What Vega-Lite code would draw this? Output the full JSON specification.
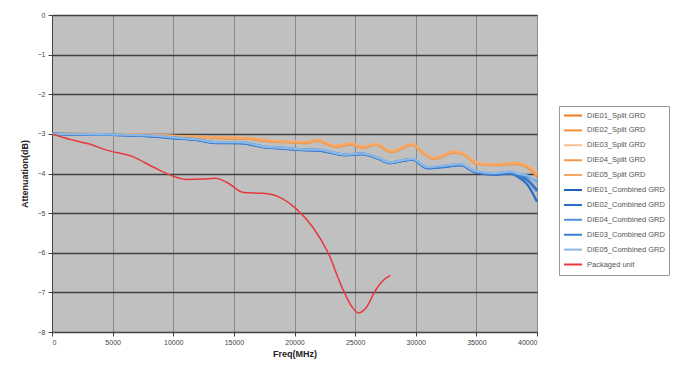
{
  "$schema": "https://vega.github.io/schema/vega-lite/v6.json",
  "width": 485,
  "height": 317,
  "autosize": "none",
  "padding": {"left": 52, "top": 15, "right": 143, "bottom": 44},
  "background": "white",
  "config": {
    "font": "Liberation Sans",
    "view": {"fill": "#C0C0C0", "stroke": "#808080", "strokeWidth": 1}
  },
  "data": {"values": [
    {"s":"DIE01_Split GRD","f":0,"a":-3.00},{"s":"DIE01_Split GRD","f":4000,"a":-3.01},{"s":"DIE01_Split GRD","f":8000,"a":-3.03},{"s":"DIE01_Split GRD","f":10000,"a":-3.06},{"s":"DIE01_Split GRD","f":12000,"a":-3.08},{"s":"DIE01_Split GRD","f":14000,"a":-3.10},{"s":"DIE01_Split GRD","f":16000,"a":-3.11},{"s":"DIE01_Split GRD","f":18000,"a":-3.18},{"s":"DIE01_Split GRD","f":19500,"a":-3.20},{"s":"DIE01_Split GRD","f":21000,"a":-3.21},{"s":"DIE01_Split GRD","f":21800,"a":-3.16},{"s":"DIE01_Split GRD","f":23400,"a":-3.31},{"s":"DIE01_Split GRD","f":24700,"a":-3.25},{"s":"DIE01_Split GRD","f":25600,"a":-3.34},{"s":"DIE01_Split GRD","f":26700,"a":-3.26},{"s":"DIE01_Split GRD","f":28000,"a":-3.45},{"s":"DIE01_Split GRD","f":29700,"a":-3.26},{"s":"DIE01_Split GRD","f":30500,"a":-3.45},{"s":"DIE01_Split GRD","f":31500,"a":-3.62},{"s":"DIE01_Split GRD","f":33200,"a":-3.45},{"s":"DIE01_Split GRD","f":34000,"a":-3.52},{"s":"DIE01_Split GRD","f":35000,"a":-3.74},{"s":"DIE01_Split GRD","f":36500,"a":-3.78},{"s":"DIE01_Split GRD","f":38200,"a":-3.74},{"s":"DIE01_Split GRD","f":39200,"a":-3.82},{"s":"DIE01_Split GRD","f":40000,"a":-4.05},

    {"s":"DIE02_Split GRD","f":0,"a":-3.00},{"s":"DIE02_Split GRD","f":4000,"a":-3.01},{"s":"DIE02_Split GRD","f":8000,"a":-3.04},{"s":"DIE02_Split GRD","f":10000,"a":-3.07},{"s":"DIE02_Split GRD","f":12000,"a":-3.09},{"s":"DIE02_Split GRD","f":14000,"a":-3.11},{"s":"DIE02_Split GRD","f":16000,"a":-3.12},{"s":"DIE02_Split GRD","f":18000,"a":-3.19},{"s":"DIE02_Split GRD","f":19500,"a":-3.21},{"s":"DIE02_Split GRD","f":21000,"a":-3.23},{"s":"DIE02_Split GRD","f":21800,"a":-3.17},{"s":"DIE02_Split GRD","f":23400,"a":-3.32},{"s":"DIE02_Split GRD","f":24700,"a":-3.27},{"s":"DIE02_Split GRD","f":25600,"a":-3.35},{"s":"DIE02_Split GRD","f":26700,"a":-3.28},{"s":"DIE02_Split GRD","f":28000,"a":-3.46},{"s":"DIE02_Split GRD","f":29700,"a":-3.28},{"s":"DIE02_Split GRD","f":30500,"a":-3.46},{"s":"DIE02_Split GRD","f":31500,"a":-3.63},{"s":"DIE02_Split GRD","f":33200,"a":-3.47},{"s":"DIE02_Split GRD","f":34000,"a":-3.53},{"s":"DIE02_Split GRD","f":35000,"a":-3.75},{"s":"DIE02_Split GRD","f":36500,"a":-3.79},{"s":"DIE02_Split GRD","f":38200,"a":-3.76},{"s":"DIE02_Split GRD","f":39200,"a":-3.84},{"s":"DIE02_Split GRD","f":40000,"a":-4.08},

    {"s":"DIE03_Split GRD","f":0,"a":-3.00},{"s":"DIE03_Split GRD","f":4000,"a":-3.02},{"s":"DIE03_Split GRD","f":8000,"a":-3.03},{"s":"DIE03_Split GRD","f":10000,"a":-3.05},{"s":"DIE03_Split GRD","f":12000,"a":-3.08},{"s":"DIE03_Split GRD","f":14000,"a":-3.09},{"s":"DIE03_Split GRD","f":16000,"a":-3.10},{"s":"DIE03_Split GRD","f":18000,"a":-3.17},{"s":"DIE03_Split GRD","f":19500,"a":-3.19},{"s":"DIE03_Split GRD","f":21000,"a":-3.20},{"s":"DIE03_Split GRD","f":21800,"a":-3.15},{"s":"DIE03_Split GRD","f":23400,"a":-3.30},{"s":"DIE03_Split GRD","f":24700,"a":-3.24},{"s":"DIE03_Split GRD","f":25600,"a":-3.33},{"s":"DIE03_Split GRD","f":26700,"a":-3.25},{"s":"DIE03_Split GRD","f":28000,"a":-3.43},{"s":"DIE03_Split GRD","f":29700,"a":-3.25},{"s":"DIE03_Split GRD","f":30500,"a":-3.44},{"s":"DIE03_Split GRD","f":31500,"a":-3.60},{"s":"DIE03_Split GRD","f":33200,"a":-3.44},{"s":"DIE03_Split GRD","f":34000,"a":-3.50},{"s":"DIE03_Split GRD","f":35000,"a":-3.72},{"s":"DIE03_Split GRD","f":36500,"a":-3.77},{"s":"DIE03_Split GRD","f":38200,"a":-3.73},{"s":"DIE03_Split GRD","f":39200,"a":-3.80},{"s":"DIE03_Split GRD","f":40000,"a":-4.00},

    {"s":"DIE04_Split GRD","f":0,"a":-3.00},{"s":"DIE04_Split GRD","f":4000,"a":-3.01},{"s":"DIE04_Split GRD","f":8000,"a":-3.03},{"s":"DIE04_Split GRD","f":10000,"a":-3.06},{"s":"DIE04_Split GRD","f":12000,"a":-3.08},{"s":"DIE04_Split GRD","f":14000,"a":-3.10},{"s":"DIE04_Split GRD","f":16000,"a":-3.12},{"s":"DIE04_Split GRD","f":18000,"a":-3.18},{"s":"DIE04_Split GRD","f":19500,"a":-3.21},{"s":"DIE04_Split GRD","f":21000,"a":-3.22},{"s":"DIE04_Split GRD","f":21800,"a":-3.17},{"s":"DIE04_Split GRD","f":23400,"a":-3.32},{"s":"DIE04_Split GRD","f":24700,"a":-3.26},{"s":"DIE04_Split GRD","f":25600,"a":-3.35},{"s":"DIE04_Split GRD","f":26700,"a":-3.27},{"s":"DIE04_Split GRD","f":28000,"a":-3.46},{"s":"DIE04_Split GRD","f":29700,"a":-3.27},{"s":"DIE04_Split GRD","f":30500,"a":-3.46},{"s":"DIE04_Split GRD","f":31500,"a":-3.62},{"s":"DIE04_Split GRD","f":33200,"a":-3.46},{"s":"DIE04_Split GRD","f":34000,"a":-3.52},{"s":"DIE04_Split GRD","f":35000,"a":-3.74},{"s":"DIE04_Split GRD","f":36500,"a":-3.79},{"s":"DIE04_Split GRD","f":38200,"a":-3.75},{"s":"DIE04_Split GRD","f":39200,"a":-3.83},{"s":"DIE04_Split GRD","f":40000,"a":-4.06},

    {"s":"DIE05_Split GRD","f":0,"a":-3.00},{"s":"DIE05_Split GRD","f":4000,"a":-3.01},{"s":"DIE05_Split GRD","f":8000,"a":-3.02},{"s":"DIE05_Split GRD","f":10000,"a":-3.05},{"s":"DIE05_Split GRD","f":12000,"a":-3.07},{"s":"DIE05_Split GRD","f":14000,"a":-3.09},{"s":"DIE05_Split GRD","f":16000,"a":-3.10},{"s":"DIE05_Split GRD","f":18000,"a":-3.17},{"s":"DIE05_Split GRD","f":19500,"a":-3.20},{"s":"DIE05_Split GRD","f":21000,"a":-3.21},{"s":"DIE05_Split GRD","f":21800,"a":-3.15},{"s":"DIE05_Split GRD","f":23400,"a":-3.30},{"s":"DIE05_Split GRD","f":24700,"a":-3.24},{"s":"DIE05_Split GRD","f":25600,"a":-3.33},{"s":"DIE05_Split GRD","f":26700,"a":-3.25},{"s":"DIE05_Split GRD","f":28000,"a":-3.44},{"s":"DIE05_Split GRD","f":29700,"a":-3.26},{"s":"DIE05_Split GRD","f":30500,"a":-3.44},{"s":"DIE05_Split GRD","f":31500,"a":-3.61},{"s":"DIE05_Split GRD","f":33200,"a":-3.45},{"s":"DIE05_Split GRD","f":34000,"a":-3.51},{"s":"DIE05_Split GRD","f":35000,"a":-3.73},{"s":"DIE05_Split GRD","f":36500,"a":-3.77},{"s":"DIE05_Split GRD","f":38200,"a":-3.73},{"s":"DIE05_Split GRD","f":39200,"a":-3.81},{"s":"DIE05_Split GRD","f":40000,"a":-4.02},

    {"s":"DIE01_Combined GRD","f":0,"a":-3.00},{"s":"DIE01_Combined GRD","f":4000,"a":-3.02},{"s":"DIE01_Combined GRD","f":8000,"a":-3.05},{"s":"DIE01_Combined GRD","f":10000,"a":-3.10},{"s":"DIE01_Combined GRD","f":12000,"a":-3.15},{"s":"DIE01_Combined GRD","f":13500,"a":-3.22},{"s":"DIE01_Combined GRD","f":15500,"a":-3.22},{"s":"DIE01_Combined GRD","f":17500,"a":-3.33},{"s":"DIE01_Combined GRD","f":19000,"a":-3.36},{"s":"DIE01_Combined GRD","f":20500,"a":-3.40},{"s":"DIE01_Combined GRD","f":22000,"a":-3.41},{"s":"DIE01_Combined GRD","f":24200,"a":-3.53},{"s":"DIE01_Combined GRD","f":25500,"a":-3.50},{"s":"DIE01_Combined GRD","f":27000,"a":-3.63},{"s":"DIE01_Combined GRD","f":27800,"a":-3.73},{"s":"DIE01_Combined GRD","f":29700,"a":-3.64},{"s":"DIE01_Combined GRD","f":31000,"a":-3.86},{"s":"DIE01_Combined GRD","f":32400,"a":-3.82},{"s":"DIE01_Combined GRD","f":33700,"a":-3.78},{"s":"DIE01_Combined GRD","f":34900,"a":-3.96},{"s":"DIE01_Combined GRD","f":36500,"a":-4.02},{"s":"DIE01_Combined GRD","f":37800,"a":-3.98},{"s":"DIE01_Combined GRD","f":38500,"a":-4.06},{"s":"DIE01_Combined GRD","f":39200,"a":-4.16},{"s":"DIE01_Combined GRD","f":40000,"a":-4.42},

    {"s":"DIE02_Combined GRD","f":0,"a":-3.00},{"s":"DIE02_Combined GRD","f":4000,"a":-3.02},{"s":"DIE02_Combined GRD","f":8000,"a":-3.06},{"s":"DIE02_Combined GRD","f":10000,"a":-3.11},{"s":"DIE02_Combined GRD","f":12000,"a":-3.16},{"s":"DIE02_Combined GRD","f":13500,"a":-3.23},{"s":"DIE02_Combined GRD","f":15500,"a":-3.23},{"s":"DIE02_Combined GRD","f":17500,"a":-3.34},{"s":"DIE02_Combined GRD","f":19000,"a":-3.37},{"s":"DIE02_Combined GRD","f":20500,"a":-3.41},{"s":"DIE02_Combined GRD","f":22000,"a":-3.42},{"s":"DIE02_Combined GRD","f":24200,"a":-3.54},{"s":"DIE02_Combined GRD","f":25500,"a":-3.51},{"s":"DIE02_Combined GRD","f":27000,"a":-3.64},{"s":"DIE02_Combined GRD","f":27800,"a":-3.74},{"s":"DIE02_Combined GRD","f":29700,"a":-3.65},{"s":"DIE02_Combined GRD","f":31000,"a":-3.87},{"s":"DIE02_Combined GRD","f":32400,"a":-3.83},{"s":"DIE02_Combined GRD","f":33700,"a":-3.79},{"s":"DIE02_Combined GRD","f":34900,"a":-3.97},{"s":"DIE02_Combined GRD","f":36500,"a":-4.03},{"s":"DIE02_Combined GRD","f":37800,"a":-4.00},{"s":"DIE02_Combined GRD","f":38500,"a":-4.10},{"s":"DIE02_Combined GRD","f":39200,"a":-4.28},{"s":"DIE02_Combined GRD","f":40000,"a":-4.71},

    {"s":"DIE04_Combined GRD","f":0,"a":-3.00},{"s":"DIE04_Combined GRD","f":4000,"a":-3.02},{"s":"DIE04_Combined GRD","f":8000,"a":-3.05},{"s":"DIE04_Combined GRD","f":10000,"a":-3.09},{"s":"DIE04_Combined GRD","f":12000,"a":-3.14},{"s":"DIE04_Combined GRD","f":13500,"a":-3.21},{"s":"DIE04_Combined GRD","f":15500,"a":-3.21},{"s":"DIE04_Combined GRD","f":17500,"a":-3.32},{"s":"DIE04_Combined GRD","f":19000,"a":-3.35},{"s":"DIE04_Combined GRD","f":20500,"a":-3.39},{"s":"DIE04_Combined GRD","f":22000,"a":-3.40},{"s":"DIE04_Combined GRD","f":24200,"a":-3.52},{"s":"DIE04_Combined GRD","f":25500,"a":-3.49},{"s":"DIE04_Combined GRD","f":27000,"a":-3.62},{"s":"DIE04_Combined GRD","f":27800,"a":-3.72},{"s":"DIE04_Combined GRD","f":29700,"a":-3.63},{"s":"DIE04_Combined GRD","f":31000,"a":-3.85},{"s":"DIE04_Combined GRD","f":32400,"a":-3.81},{"s":"DIE04_Combined GRD","f":33700,"a":-3.77},{"s":"DIE04_Combined GRD","f":34900,"a":-3.95},{"s":"DIE04_Combined GRD","f":36500,"a":-4.00},{"s":"DIE04_Combined GRD","f":37800,"a":-3.96},{"s":"DIE04_Combined GRD","f":38500,"a":-4.03},{"s":"DIE04_Combined GRD","f":39200,"a":-4.08},{"s":"DIE04_Combined GRD","f":40000,"a":-4.21},

    {"s":"DIE03_Combined GRD","f":0,"a":-3.00},{"s":"DIE03_Combined GRD","f":4000,"a":-3.02},{"s":"DIE03_Combined GRD","f":8000,"a":-3.05},{"s":"DIE03_Combined GRD","f":10000,"a":-3.10},{"s":"DIE03_Combined GRD","f":12000,"a":-3.15},{"s":"DIE03_Combined GRD","f":13500,"a":-3.22},{"s":"DIE03_Combined GRD","f":15500,"a":-3.23},{"s":"DIE03_Combined GRD","f":17500,"a":-3.33},{"s":"DIE03_Combined GRD","f":19000,"a":-3.37},{"s":"DIE03_Combined GRD","f":20500,"a":-3.40},{"s":"DIE03_Combined GRD","f":22000,"a":-3.42},{"s":"DIE03_Combined GRD","f":24200,"a":-3.53},{"s":"DIE03_Combined GRD","f":25500,"a":-3.51},{"s":"DIE03_Combined GRD","f":27000,"a":-3.63},{"s":"DIE03_Combined GRD","f":27800,"a":-3.73},{"s":"DIE03_Combined GRD","f":29700,"a":-3.65},{"s":"DIE03_Combined GRD","f":31000,"a":-3.86},{"s":"DIE03_Combined GRD","f":32400,"a":-3.83},{"s":"DIE03_Combined GRD","f":33700,"a":-3.79},{"s":"DIE03_Combined GRD","f":34900,"a":-3.96},{"s":"DIE03_Combined GRD","f":36500,"a":-4.02},{"s":"DIE03_Combined GRD","f":37800,"a":-3.99},{"s":"DIE03_Combined GRD","f":38500,"a":-4.07},{"s":"DIE03_Combined GRD","f":39200,"a":-4.18},{"s":"DIE03_Combined GRD","f":40000,"a":-4.45},

    {"s":"DIE05_Combined GRD","f":0,"a":-3.00},{"s":"DIE05_Combined GRD","f":4000,"a":-3.01},{"s":"DIE05_Combined GRD","f":8000,"a":-3.04},{"s":"DIE05_Combined GRD","f":10000,"a":-3.09},{"s":"DIE05_Combined GRD","f":12000,"a":-3.14},{"s":"DIE05_Combined GRD","f":13500,"a":-3.21},{"s":"DIE05_Combined GRD","f":15500,"a":-3.21},{"s":"DIE05_Combined GRD","f":17500,"a":-3.32},{"s":"DIE05_Combined GRD","f":19000,"a":-3.35},{"s":"DIE05_Combined GRD","f":20500,"a":-3.39},{"s":"DIE05_Combined GRD","f":22000,"a":-3.40},{"s":"DIE05_Combined GRD","f":24200,"a":-3.52},{"s":"DIE05_Combined GRD","f":25500,"a":-3.49},{"s":"DIE05_Combined GRD","f":27000,"a":-3.62},{"s":"DIE05_Combined GRD","f":27800,"a":-3.72},{"s":"DIE05_Combined GRD","f":29700,"a":-3.63},{"s":"DIE05_Combined GRD","f":31000,"a":-3.84},{"s":"DIE05_Combined GRD","f":32400,"a":-3.80},{"s":"DIE05_Combined GRD","f":33700,"a":-3.76},{"s":"DIE05_Combined GRD","f":34900,"a":-3.94},{"s":"DIE05_Combined GRD","f":36500,"a":-3.99},{"s":"DIE05_Combined GRD","f":37800,"a":-3.95},{"s":"DIE05_Combined GRD","f":38500,"a":-4.01},{"s":"DIE05_Combined GRD","f":39200,"a":-4.05},{"s":"DIE05_Combined GRD","f":40000,"a":-4.25},

    {"s":"Packaged unit","f":0,"a":-3.00},{"s":"Packaged unit","f":1000,"a":-3.10},{"s":"Packaged unit","f":1750,"a":-3.16},{"s":"Packaged unit","f":3000,"a":-3.25},{"s":"Packaged unit","f":4500,"a":-3.41},{"s":"Packaged unit","f":6700,"a":-3.58},{"s":"Packaged unit","f":8300,"a":-3.83},{"s":"Packaged unit","f":10000,"a":-4.07},{"s":"Packaged unit","f":11100,"a":-4.15},{"s":"Packaged unit","f":12500,"a":-4.14},{"s":"Packaged unit","f":13500,"a":-4.12},{"s":"Packaged unit","f":14400,"a":-4.22},{"s":"Packaged unit","f":15800,"a":-4.48},{"s":"Packaged unit","f":17400,"a":-4.50},{"s":"Packaged unit","f":18700,"a":-4.59},{"s":"Packaged unit","f":20100,"a":-4.88},{"s":"Packaged unit","f":21500,"a":-5.35},{"s":"Packaged unit","f":22800,"a":-6.02},{"s":"Packaged unit","f":23900,"a":-6.86},{"s":"Packaged unit","f":24750,"a":-7.37},{"s":"Packaged unit","f":25300,"a":-7.52},{"s":"Packaged unit","f":25850,"a":-7.41},{"s":"Packaged unit","f":26700,"a":-6.94},{"s":"Packaged unit","f":27200,"a":-6.73},{"s":"Packaged unit","f":27900,"a":-6.57}
  ]},
  "encoding": {
    "x": {
      "field": "f", "type": "quantitative",
      "scale": {"domain": [0, 40000], "nice": false, "zero": false},
      "axis": {
        "title": "Freq(MHz)", "titleFontSize": 9, "titleFontWeight": "bold", "titleColor": "#222", "titlePadding": 4,
        "values": [0, 5000, 10000, 15000, 20000, 25000, 30000, 35000, 40000],
        "format": "d", "labelFontSize": 7, "labelColor": "#444", "labelPadding": 2,
        "tickSize": 4, "tickColor": "#444", "domainColor": "#444",
        "grid": true, "gridColor": "#8a8a8a", "gridWidth": 1
      }
    },
    "y": {
      "field": "a", "type": "quantitative",
      "scale": {"domain": [-8, 0], "nice": false, "zero": false},
      "axis": {
        "title": "Attenuation(dB)", "titleFontSize": 9, "titleFontWeight": "bold", "titleColor": "#222", "titlePadding": 8,
        "values": [0, -1, -2, -3, -4, -5, -6, -7, -8],
        "format": "d", "labelFontSize": 7, "labelColor": "#444", "labelPadding": 3,
        "tickSize": 4, "tickColor": "#444", "domainColor": "#444",
        "grid": true, "gridColor": "#404040", "gridWidth": 1.3
      }
    },
    "color": {
      "field": "s", "type": "nominal",
      "scale": {
        "domain": ["DIE01_Split GRD", "DIE02_Split GRD", "DIE03_Split GRD", "DIE04_Split GRD", "DIE05_Split GRD", "DIE01_Combined GRD", "DIE02_Combined GRD", "DIE04_Combined GRD", "DIE03_Combined GRD", "DIE05_Combined GRD", "Packaged unit"],
        "range": ["#EE7A1F", "#F0903F", "#F7BE90", "#F29A4C", "#F4A868", "#1F5FBF", "#2A6BCB", "#4F92DA", "#3B7FD0", "#8AB8E6", "#E8383D"]
      },
      "legend": {
        "title": null, "orient": "none", "legendX": 507, "legendY": 91,
        "symbolType": "stroke", "symbolStrokeWidth": 2, "symbolSize": 324,
        "labelFontSize": 7.5, "labelColor": "#555", "labelOffset": 4, "clipHeight": 11, "rowPadding": 3.9,
        "strokeColor": "#999", "fillColor": "white", "padding": 4, "labelLimit": 120
      }
    }
  },
  "layer": [
    {
      "transform": [{"filter": "datum.s !== 'Packaged unit'"}],
      "mark": {"type": "line", "interpolate": "monotone", "strokeWidth": 2.3}
    },
    {
      "transform": [{"filter": "datum.s === 'Packaged unit'"}],
      "mark": {"type": "line", "interpolate": "monotone", "strokeWidth": 1.5}
    }
  ]
}
